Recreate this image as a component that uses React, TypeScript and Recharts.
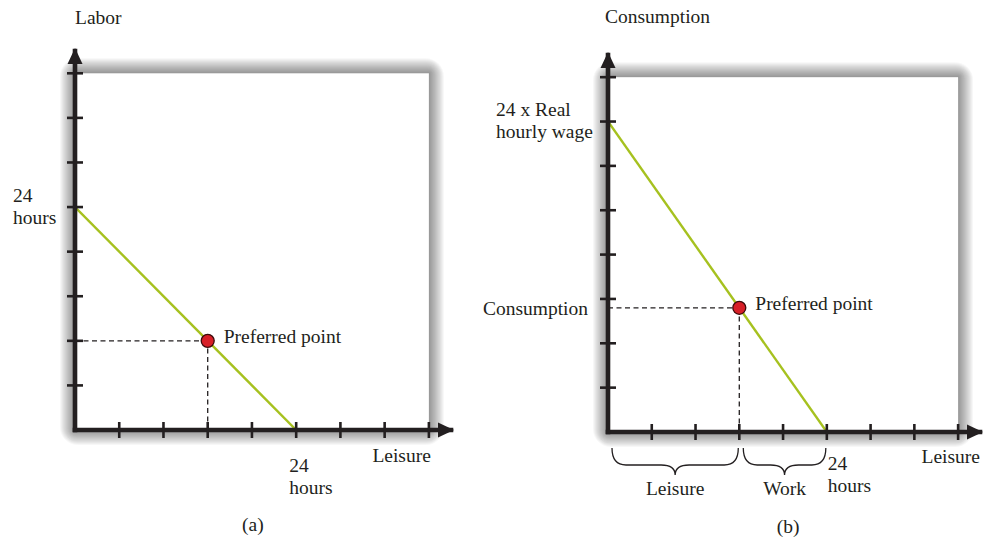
import React from 'react';
import {
  ComposedChart,
  XAxis,
  YAxis,
  Line,
  ReferenceArea,
  ReferenceLine,
  ReferenceDot,
} from 'recharts';

// ---------- data ----------
const axisTicks = [1, 2, 3, 4, 5, 6, 7, 8];
const AXIS_END = 8.5;
const BOX_MAX = 8;

// panel (a)
const budgetA = [
  { x: 0, y: 5 },
  { x: 5, y: 0 },
];
const preferredA = { x: 3, y: 2 };
const titleA = 'Labor';
const xTitleA = 'Leisure';
const captionA = '(a)';
const yTickLabelsA = [{ value: 5, lines: ['24', 'hours'] }];
const xTickLabelsA = [{ value: 5, lines: ['24', 'hours'] }];

// panel (b)
const budgetB = [
  { x: 0, y: 7 },
  { x: 5, y: 0 },
];
const preferredB = { x: 3, y: 2.8 };
const titleB = 'Consumption';
const xTitleB = 'Leisure';
const captionB = '(b)';
const yTickLabelsB = [
  { value: 7, lines: ['24 x Real', 'hourly wage'] },
  { value: 2.8, lines: ['Consumption'] },
];
const xTickLabelsB = [{ value: 5, lines: ['24', 'hours'] }];
const bracesB = [
  { from: 0, to: 3, label: 'Leisure' },
  { from: 3, to: 5, label: 'Work' },
];
const pointLabel = 'Preferred point';

// ---------- styles ----------
const INK = '#231f20';
const GREEN = '#a6c11f';
const RED = '#d71f27';
const FONT = "'Liberation Serif', 'Times New Roman', serif";
const FS = 19.5;
const LH = 22;
const AXIS_W = 4.6;
const SHADOW_LAYERS = 15;
const SHADOW_ALPHA = 0.03;

type Lay = { dx: number; dy: number; anchor: 'start' | 'end' | 'middle' };

const MultiText = ({ x, y, lines, anchor }: { x: number; y: number; lines: string[]; anchor: string }) => (
  <text x={x} y={y} textAnchor={anchor as any} fontFamily={FONT} fontSize={FS} fill={INK}>
    {lines.map((l, i) => (
      <tspan key={i} x={x} dy={i === 0 ? 0 : LH}>
        {l}
      </tspan>
    ))}
  </text>
);

const makeXTick =
  (labels: { value: number; lines: string[] }[], lay: Lay) =>
  (props: any) => {
    const { x, y, payload } = props;
    const v = payload.value;
    if (v === AXIS_END) {
      return (
        <polygon
          points={`${x + 3},${y} ${x - 13},${y - 7.5} ${x - 13},${y + 7.5}`}
          fill={INK}
        />
      );
    }
    const lab = labels.find((l) => l.value === v);
    return (
      <g>
        {axisTicks.includes(v) && (
          <line x1={x} x2={x} y1={y - 8} y2={y + 8} stroke={INK} strokeWidth={2.6} />
        )}
        {lab && <MultiText x={x + lay.dx} y={y + lay.dy} lines={lab.lines} anchor={lay.anchor} />}
      </g>
    );
  };

const makeYTick =
  (labels: { value: number; lines: string[] }[], lays: Lay[]) =>
  (props: any) => {
    const { x, y, payload } = props;
    const v = payload.value;
    if (v === AXIS_END) {
      return (
        <polygon
          points={`${x},${y - 3} ${x - 7.5},${y + 13} ${x + 7.5},${y + 13}`}
          fill={INK}
        />
      );
    }
    const idx = labels.findIndex((l) => l.value === v);
    const lab = idx >= 0 ? labels[idx] : null;
    const lay = idx >= 0 ? lays[idx] : null;
    return (
      <g>
        {axisTicks.includes(v) && (
          <line x1={x - 8} x2={x + 8} y1={y} y2={y} stroke={INK} strokeWidth={2.6} />
        )}
        {lab && lay && (
          <MultiText x={x + lay.dx} y={y + lay.dy} lines={lab.lines} anchor={lay.anchor} />
        )}
      </g>
    );
  };

// white plot box with a soft grey glow built from stacked translucent layers
const glowBox = (p: any) => {
  const layers = [];
  for (let i = SHADOW_LAYERS; i >= 1; i--) {
    layers.push(
      <rect
        key={i}
        x={p.x - i}
        y={p.y - i}
        width={p.width + 2 * i}
        height={p.height + 2 * i}
        rx={i * 1.2}
        ry={i * 1.2}
        fill="#000"
        fillOpacity={SHADOW_ALPHA}
      />
    );
  }
  return (
    <g>
      {layers}
      <rect x={p.x} y={p.y} width={p.width} height={p.height} fill="#fff" />
    </g>
  );
};

const textAt =
  (lines: string[], dx: number, dy: number, anchor: string) =>
  (p: any) =>
    <MultiText x={p.cx + dx} y={p.cy + dy} lines={lines} anchor={anchor} />;

const braceShape = (label: string) => (p: any) => {
  const a = Math.min(p.x1, p.x2) + 4;
  const b = Math.max(p.x1, p.x2) - 1;
  const y = p.y1;
  const top = y + 16;
  const mid = y + 33;
  const tip = y + 43;
  const xm = (a + b) / 2;
  const r = 14;
  const d = `M${a},${top} Q${a},${mid} ${a + r},${mid} L${xm - r},${mid} Q${xm},${mid} ${xm},${tip} Q${xm},${mid} ${xm + r},${mid} L${b - r},${mid} Q${b},${mid} ${b},${top}`;
  return (
    <g>
      <path d={d} fill="none" stroke={INK} strokeWidth={1.3} />
      <MultiText x={xm} y={y + 63} lines={[label]} anchor="middle" />
    </g>
  );
};

const dash = { stroke: INK, strokeWidth: 1.3, strokeDasharray: '5 3.5' };

const Panel = ({
  width,
  margin,
  budget,
  preferred,
  title,
  xTitle,
  caption,
  xLabels,
  xLay,
  yLabels,
  yLays,
  titleOff,
  xTitleOff,
  captionOff,
  braces,
}: any) => {
  const yTicks = [...axisTicks, ...yLabels.map((l: any) => l.value).filter((v: number) => !axisTicks.includes(v)), AXIS_END];
  return (
    <ComposedChart width={width} height={544} margin={margin}>
      <ReferenceArea x1={0} x2={BOX_MAX} y1={0} y2={BOX_MAX} shape={glowBox} ifOverflow="visible" />
      <ReferenceLine
        segment={[
          { x: 0, y: preferred.y },
          { x: preferred.x, y: preferred.y },
        ]}
        {...dash}
        ifOverflow="visible"
      />
      <ReferenceLine
        segment={[
          { x: preferred.x, y: 0 },
          { x: preferred.x, y: preferred.y },
        ]}
        {...dash}
        ifOverflow="visible"
      />
      <XAxis
        type="number"
        dataKey="x"
        domain={[0, AXIS_END]}
        ticks={[...axisTicks, AXIS_END]}
        interval={0}
        height={1}
        tickSize={0}
        tickMargin={0}
        tickLine={false}
        axisLine={{ stroke: INK, strokeWidth: AXIS_W, strokeLinecap: 'square' }}
        tick={makeXTick(xLabels, xLay)}
        allowDataOverflow
      />
      <YAxis
        type="number"
        dataKey="y"
        domain={[0, AXIS_END]}
        ticks={yTicks}
        interval={0}
        width={1}
        tickSize={0}
        tickMargin={0}
        tickLine={false}
        axisLine={{ stroke: INK, strokeWidth: AXIS_W, strokeLinecap: 'square' }}
        tick={makeYTick(yLabels, yLays)}
        allowDataOverflow
      />
      <Line
        data={budget}
        dataKey="y"
        type="linear"
        stroke={GREEN}
        strokeWidth={2.4}
        dot={false}
        activeDot={false}
        isAnimationActive={false}
      />
      <ReferenceDot
        x={preferred.x}
        y={preferred.y}
        r={6.5}
        fill={RED}
        stroke="#3b0a0a"
        strokeWidth={1.3}
        ifOverflow="visible"
      />
      <ReferenceDot
        x={preferred.x}
        y={preferred.y}
        r={0}
        ifOverflow="visible"
        shape={textAt([pointLabel], 16, 2, 'start')}
      />
      <ReferenceDot x={0} y={AXIS_END} r={0} ifOverflow="visible" shape={textAt([title], titleOff[0], titleOff[1], 'start')} />
      <ReferenceDot x={xTitleOff[2]} y={0} r={0} ifOverflow="visible" shape={textAt([xTitle], xTitleOff[0], xTitleOff[1], 'end')} />
      <ReferenceDot x={4} y={0} r={0} ifOverflow="visible" shape={textAt([caption], captionOff[0], captionOff[1], 'middle')} />
      {(braces || []).map((b: any, i: number) => (
        <ReferenceLine
          key={i}
          segment={[
            { x: b.from, y: 0 },
            { x: b.to, y: 0 },
          ]}
          ifOverflow="visible"
          shape={braceShape(b.label)}
        />
      ))}
    </ComposedChart>
  );
};

export default function App() {
  return (
    <div style={{ position: 'absolute', left: 0, top: 0, width: 999, height: 544, background: '#fff' }}>
      <div style={{ position: 'absolute', left: 0, top: 0 }}>
        <Panel
          width={490}
          margin={{ top: 51, left: 74, right: 39, bottom: 113 }}
          budget={budgetA}
          preferred={preferredA}
          title={titleA}
          xTitle={xTitleA}
          caption={captionA}
          xLabels={xTickLabelsA}
          xLay={{ dx: -7, dy: 42, anchor: 'start' }}
          yLabels={yTickLabelsA}
          yLays={[{ dx: -62, dy: -5, anchor: 'start' }]}
          titleOff={[0, -27]}
          xTitleOff={[2, 32, 8]}
          captionOff={[1, 101]}
        />
      </div>
      <div style={{ position: 'absolute', left: 470, top: 0 }}>
        <Panel
          width={529}
          margin={{ top: 55, left: 137, right: 19, bottom: 111 }}
          budget={budgetB}
          preferred={preferredB}
          title={titleB}
          xTitle={xTitleB}
          caption={captionB}
          xLabels={xTickLabelsB}
          xLay={{ dx: 1, dy: 38, anchor: 'start' }}
          yLabels={yTickLabelsB}
          yLays={[
            { dx: -112, dy: -6, anchor: 'start' },
            { dx: -20, dy: 7, anchor: 'end' },
          ]}
          titleOff={[-3, -32]}
          xTitleOff={[0, 31, AXIS_END]}
          captionOff={[5, 101]}
          braces={bracesB}
        />
      </div>
    </div>
  );
}
